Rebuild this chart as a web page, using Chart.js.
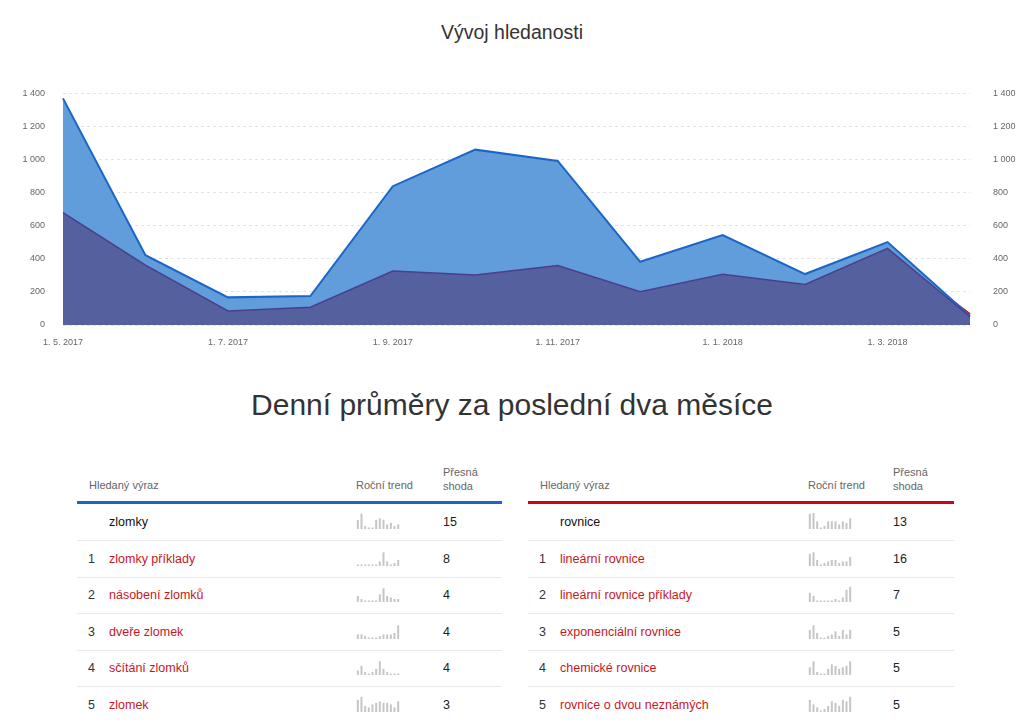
<!DOCTYPE html>
<html lang="cs">
<head>
<meta charset="utf-8">
<script src="https://cdn.jsdelivr.net/npm/chart.js@4/dist/chart.umd.min.js"></script>
<style>
  body { margin: 0; width: 1024px; height: 722px; background: #fff; font-family: "Liberation Sans", Arial, sans-serif; position: relative; overflow: hidden; }
  .title { position: absolute; top: 21px; left: 0; width: 1024px; text-align: center; font-size: 19.5px; color: #333; }
  .heading { position: absolute; top: 388px; left: 0; width: 1024px; text-align: center; font-size: 30px; color: #333; }
  #mainWrap { position: absolute; left: 0; top: 70px; width: 1024px; height: 290px; }
  .tbl { position: absolute; top: 460px; height: 262px; }
  .hdr { position: absolute; font-size: 11px; color: #666; line-height: 14px; }
  .bar { position: absolute; top: 41px; left: 0; right: 0; height: 3px; }
  .row { position: absolute; left: 0; right: 0; height: 36px; border-bottom: 1px solid #eaeaea; font-size: 12.5px; }
  .row span { position: absolute; top: 11px; }
  .row .num { left: 11px; color: #333; }
  .row .term { left: 32px; color: #c8171e; }
  .row .term.main { color: #111; }
  .row .cnt { color: #222; }
  .row canvas { position: absolute; top: 9px; }
</style>
</head>
<body>
<div class="title">Vývoj hledanosti</div>
<div id="mainWrap"><canvas id="graph_main"></canvas></div>
<div class="heading">Denní průměry za poslední dva měsíce</div>
<div class="tbl" id="tblLeft" style="left:77px;width:425px"></div>
<div class="tbl" id="tblRight" style="left:528px;width:426px"></div>

<script>
// osa X - měsíce
var months = ['1. 5. 2017', '1. 6. 2017', '1. 7. 2017', '1. 8. 2017', '1. 9. 2017', '1. 10. 2017',
              '1. 11. 2017', '1. 12. 2017', '1. 1. 2018', '1. 2. 2018', '1. 3. 2018', '1. 4. 2018'];
// hledanost - celkem (světle modrá)
var totalSearches = [1370, 422, 167, 175, 839, 1060, 992, 382, 543, 308, 501, 55];
// hledanost - zlomky (tmavá)
var darkSearches = [680, 362, 85, 107, 326, 302, 360, 201, 306, 245, 463, 50];
// červená řada - vidět jen na konci
var redSearches = [null, null, null, null, null, null, null, null, null, null, 440, 66];
// popisky osy Y
var yTicks = [0, 200, 400, 600, 800, 1000, 1200, 1400];

// tabulka vlevo
var leftTerms = ['zlomky', 'zlomky příklady', 'násobení zlomků', 'dveře zlomek', 'sčítání zlomků', 'zlomek'];
var leftCounts = [15, 8, 4, 4, 4, 3];
var leftTrends = [
  [6, 10, 2, 1, 1, 6, 7, 6, 3, 4, 2, 3],
  [1, 1, 1, 1, 1, 1, 3, 9, 3, 1, 2, 4],
  [4, 2, 1, 1, 1, 1, 5, 9, 4, 3, 2, 2],
  [3, 3, 2, 1, 1, 1, 2, 3, 3, 3, 4, 9],
  [3, 6, 2, 1, 2, 4, 9, 4, 2, 1, 1, 1],
  [8, 10, 4, 3, 5, 6, 7, 6, 6, 5, 3, 7]
];
// tabulka vpravo
var rightTerms = ['rovnice', 'lineární rovnice', 'lineární rovnice příklady', 'exponenciální rovnice', 'chemické rovnice', 'rovnice o dvou neznámých'];
var rightCounts = [13, 16, 7, 5, 5, 5];
var rightTrends = [
  [10, 11, 5, 1, 2, 5, 5, 5, 3, 5, 4, 7],
  [8, 9, 4, 1, 2, 3, 4, 4, 2, 3, 3, 6],
  [6, 4, 1, 1, 1, 1, 1, 2, 1, 3, 8, 10],
  [6, 9, 4, 1, 1, 2, 3, 5, 2, 6, 3, 6],
  [5, 9, 2, 1, 1, 4, 7, 6, 4, 5, 6, 9],
  [8, 5, 3, 1, 2, 4, 7, 6, 4, 8, 7, 10]
];

function fmt(v) {
  return String(v).replace(/\B(?=(\d{3})+(?!\d))/g, ' ');
}

var tickFont = { family: '"Liberation Sans", Arial, sans-serif', size: 9 };

var ctx = document.getElementById('graph_main');
new Chart(ctx, {
  type: 'line',
  data: {
    labels: months,
    datasets: [{
      data: darkSearches,
      borderColor: '#4a3f8c',
      backgroundColor: '#55609f',
      borderWidth: 1.5,
      fill: 'origin',
      pointRadius: 0,
      tension: 0,
      order: 0
    }, {
      data: totalSearches,
      borderColor: '#1a66c7',
      backgroundColor: '#619cdb',
      borderWidth: 2,
      fill: 'origin',
      pointRadius: 0,
      tension: 0,
      order: 1
    }, {
      data: redSearches,
      borderColor: '#e0101a',
      borderWidth: 2,
      fill: false,
      pointRadius: 0,
      tension: 0,
      order: 2
    }]
  },
  options: {
    responsive: true,
    maintainAspectRatio: false,
    animation: false,
    layout: { padding: { top: 3, bottom: 0, left: 0, right: 0 } },
    plugins: { legend: { display: false }, tooltip: { enabled: false } },
    scales: {
      x: {
        offset: false,
        grid: { display: false },
        border: { display: false },
        ticks: {
          autoSkip: false, maxRotation: 0, padding: 4, color: '#666', font: tickFont,
          callback: function (v, i) { return i % 2 === 0 ? months[i] : ''; }
        },
        afterFit: function (s) { s.height = 35; }
      },
      y: {
        position: 'left',
        min: 0, max: 1400,
        afterBuildTicks: function (s) { s.ticks = yTicks.map(function (v) { return { value: v }; }); },
        grid: { color: '#e3e3e3', drawTicks: false },
        border: { display: false, dash: [3, 3] },
        ticks: { padding: 18, color: '#666', font: tickFont, callback: function (v) { return fmt(v); } },
        afterFit: function (s) { s.width = 63; }
      },
      y2: {
        position: 'right',
        min: 0, max: 1400,
        afterBuildTicks: function (s) { s.ticks = yTicks.map(function (v) { return { value: v }; }); },
        grid: { display: false },
        border: { display: false },
        ticks: { padding: 15, color: '#666', font: tickFont, callback: function (v) { return fmt(v); } },
        afterFit: function (s) { s.width = 54; }
      }
    }
  }
});

// tabulky se sparkline grafy
function buildTable(el, color, terms, counts, trends, trendX, countX) {
  var html = '<div class="hdr" style="left:12px;top:18px">Hledaný výraz</div>' +
             '<div class="hdr" style="left:' + trendX + 'px;top:18px">Roční trend</div>' +
             '<div class="hdr" style="left:' + countX + 'px;top:5px;line-height:14px">Přesná<br>shoda</div>' +
             '<div class="bar" style="background:' + color + '"></div>';
  for (var i = 0; i < terms.length; i++) {
    var top = 44 + i * 36.6;
    html += '<div class="row" style="top:' + top + 'px">' +
            (i > 0 ? '<span class="num">' + i + '</span>' : '') +
            '<span class="term' + (i === 0 ? ' main' : '') + '">' + terms[i] + '</span>' +
            '<canvas width="44" height="16" style="left:' + trendX + 'px;width:44px;height:16px"></canvas>' +
            '<span class="cnt" style="left:' + countX + 'px">' + counts[i] + '</span></div>';
  }
  el.innerHTML = html;
  var canvases = el.querySelectorAll('canvas');
  for (var j = 0; j < canvases.length; j++) {
    new Chart(canvases[j], {
      type: 'bar',
      data: {
        labels: trends[j].map(function (_, k) { return k; }),
        datasets: [{ data: trends[j], backgroundColor: '#c6c6c6', barPercentage: 0.55, categoryPercentage: 1 }]
      },
      options: {
        responsive: false,
        animation: false,
        layout: { padding: 0 },
        plugins: { legend: { display: false }, tooltip: { enabled: false } },
        scales: {
          x: { display: false },
          y: { display: false, min: 0, max: 10.5 }
        }
      }
    });
  }
}

buildTable(document.getElementById('tblLeft'), '#1a66c7', leftTerms, leftCounts, leftTrends, 279, 366);
buildTable(document.getElementById('tblRight'), '#d0021b', rightTerms, rightCounts, rightTrends, 280, 365);
</script>
</body>
</html>
